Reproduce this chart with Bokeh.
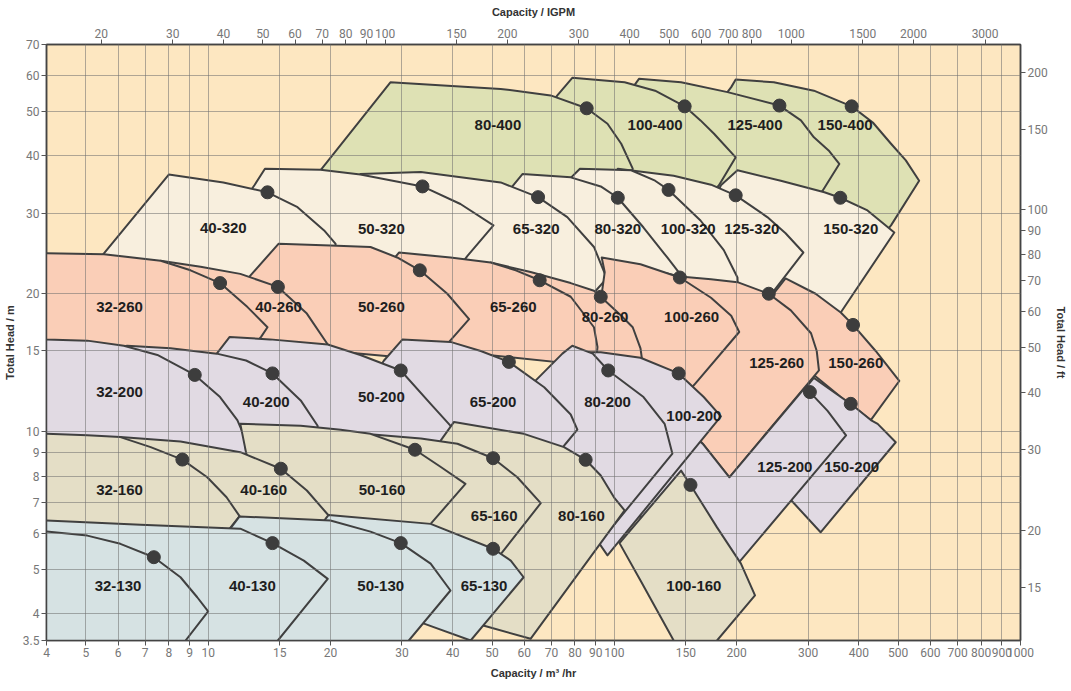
from bokeh.plotting import figure
from bokeh.models import Range1d, LogAxis, LogScale, FixedTicker, CustomJSTickFormatter
from bokeh.embed import file_html
from bokeh.resources import INLINE
from bokeh.core.properties import value

# ---------------- data (capacity m3/hr, total head m) ----------------
Q_TICKS = [4, 5, 6, 7, 8, 9, 10, 15, 20, 30, 40, 50, 60, 70, 80, 90, 100, 150, 200,
           300, 400, 500, 600, 700, 800, 900, 1000]
H_TICKS = [3.5, 4, 5, 6, 7, 8, 9, 10, 15, 20, 30, 40, 50, 60, 70]
IGPM_TICKS = [20, 30, 40, 50, 60, 70, 80, 90, 100, 150, 200, 300, 400, 500, 600, 700, 800,
              1000, 1500, 2000, 3000]
FT_TICKS = [15, 20, 30, 40, 50, 60, 70, 80, 90, 100, 150, 200]
IGPM_PER_M3H = 3.66615
FT_PER_M = 3.28084

# 400 family
Q_150_400 = [199, 247, 310, 384, 433, 480, 522, 563, 480, 404, 229, 168, 194]
H_150_400 = [58.7, 57.9, 55.5, 51.3, 47.3, 42.5, 39.1, 35.3, 28.2, 23.4, 31.2, 47.8, 56.5]
Q_125_400 = [115, 146, 190, 255, 288, 310, 337, 358, 326, 288, 154, 104, 112]
H_125_400 = [58.9, 57.9, 55.1, 51.5, 47.8, 43.9, 41.1, 38.4, 33.6, 29.6, 32.0, 50.2, 57.0]
Q_100_400 = [78.8, 106, 126, 149, 163, 176, 199, 181, 163, 92.6, 62.2, 72.4]
H_100_400 = [59.2, 57.9, 55.5, 51.3, 47.8, 44.7, 39.7, 34.5, 31.2, 34.5, 45.4, 54.2]
Q_80_400 = [17.9, 18.9, 28.1, 52.5, 69.7, 85.5, 96.2, 104, 111, 109, 52.5]
H_80_400 = [35.0, 37.2, 57.9, 56.0, 54.2, 50.8, 47.0, 42.5, 37.5, 33.6, 32.8]

# 320 family
Q_150_320 = [201, 257, 329, 360, 420, 489, 361, 313, 229, 163, 183]
H_150_320 = [37.2, 35.3, 33.3, 32.4, 30.4, 27.2, 18.2, 15.4, 17.5, 27.5, 34.5]
Q_125_320 = [102, 140, 173, 199, 238, 264, 292, 247, 217, 163, 123, 92.6]
H_125_320 = [37.5, 36.2, 34.6, 32.8, 29.4, 27.1, 24.6, 20.3, 17.5, 19.3, 21.9, 28.9]
Q_100_320 = [82.3, 110, 126, 136, 163, 186, 201, 202, 123, 87.5, 69.7, 78.1]
H_100_320 = [37.5, 37.2, 35.3, 33.7, 28.9, 24.9, 21.7, 19.3, 20.3, 26.1, 32.0, 35.8]
Q_80_320 = [59.4, 78.1, 92.6, 102, 118, 135, 144, 146, 98.0, 65.9, 49.6, 56.1]
H_80_320 = [36.5, 35.9, 34.3, 32.4, 27.9, 24.0, 22.3, 20.3, 19.3, 23.6, 29.6, 34.3]
Q_65_320 = [23.7, 33.4, 52.5, 64.9, 76.6, 89.1, 95.8, 90.0, 78.1, 46.9, 29.8, 21.2]
H_65_320 = [36.5, 36.9, 35.0, 32.5, 29.4, 25.3, 21.6, 20.3, 17.5, 19.3, 22.5, 32.0]
Q_50_320 = [13.8, 18.9, 23.7, 28.9, 33.7, 41.8, 50.4, 43.5, 37.4, 21.2, 12.0, 13.0]
H_50_320 = [37.5, 37.3, 36.4, 35.2, 34.3, 31.4, 28.2, 24.2, 20.3, 23.4, 31.2, 34.5]
Q_40_320 = [5.13, 5.54, 8.0, 10.9, 14.0, 16.6, 19.3, 20.6, 20.0, 7.22]
H_40_320 = [22.5, 24.5, 36.4, 35.0, 33.3, 30.9, 27.5, 25.7, 20.8, 20.8]

# 260 family
Q_150_260 = [264, 313, 361, 387, 440, 503, 428, 361, 310, 257, 229]
H_150_260 = [21.6, 20.0, 18.2, 17.1, 15.0, 12.9, 10.6, 11.9, 13.3, 15.0, 18.4]
Q_125_260 = [130, 145, 173, 201, 240, 272, 305, 315, 319, 192, 165, 146, 123]
H_125_260 = [22.3, 21.8, 21.5, 21.2, 20.0, 18.4, 16.4, 15.0, 13.6, 7.95, 9.41, 10.6, 16.6]
Q_100_260 = [93.1, 116, 145, 173, 194, 203, 159, 138, 104, 92.6, 94.7]
H_100_260 = [24.0, 23.2, 21.7, 19.6, 17.9, 16.5, 12.8, 11.1, 12.9, 19.3, 22.3]
Q_80_260 = [49.6, 62.2, 78.1, 89.1, 92.6, 104, 111, 116, 118, 73.8, 46.9]
H_80_260 = [23.4, 22.3, 21.1, 20.3, 19.7, 17.9, 16.9, 15.2, 13.6, 14.3, 19.3]
Q_65_260 = [29.5, 39.5, 49.6, 57.2, 65.5, 78.1, 89.1, 90.9, 90.0, 39.5, 27.4]
H_65_260 = [24.6, 24.0, 23.4, 22.5, 21.4, 19.7, 16.9, 15.3, 13.9, 15.0, 22.7]
Q_50_260 = [14.9, 20.0, 25.1, 29.2, 33.2, 38.8, 43.9, 39.2, 36.3, 20.0, 11.7, 12.7]
H_50_260 = [25.7, 25.5, 25.3, 24.0, 22.5, 20.0, 17.6, 15.7, 14.3, 15.0, 19.8, 21.9]
Q_40_260 = [7.64, 9.58, 12.0, 14.85, 17.5, 19.7, 19.8, 9.58, 5.75]
H_40_260 = [23.6, 22.9, 22.1, 20.7, 18.1, 15.5, 14.3, 14.3, 19.3]
Q_32_260 = [3.65, 4.0, 5.54, 7.64, 9.05, 10.7, 12.5, 14.0, 13.5, 12.0, 3.65]
H_32_260 = [24.5, 24.5, 24.4, 23.6, 22.5, 21.1, 18.7, 16.9, 16.1, 14.3, 14.3]

# 200 family
Q_150_200 = [310, 361, 382, 428, 445, 493, 322, 275, 229, 272]
H_150_200 = [13.1, 11.9, 11.5, 10.6, 10.4, 9.48, 6.03, 7.02, 8.22, 11.4]
Q_125_200 = [146, 165, 192, 293, 303, 335, 372, 203, 163, 116, 116]
H_125_200 = [10.3, 9.41, 7.95, 12.4, 12.2, 11.1, 9.81, 5.19, 4.07, 5.23, 8.22]
Q_100_200 = [85.0, 92.6, 116, 144, 166, 183, 96.2, 91.7, 73.8, 78.1]
H_100_200 = [14.9, 14.9, 14.5, 13.4, 11.9, 10.8, 5.37, 5.71, 7.82, 12.9]
Q_80_200 = [78.8, 88.5, 96.6, 118, 133, 139, 91.7, 73.8, 58.8, 62.2, 74.5]
H_80_200 = [15.4, 14.8, 13.6, 11.9, 10.4, 8.95, 5.71, 5.23, 9.09, 12.6, 14.8]
Q_65_200 = [30.1, 39.5, 46.9, 55.0, 67.2, 78.1, 81.1, 75.9, 65.9, 44.3, 25.1, 27.1]
H_65_200 = [15.9, 15.7, 15.0, 14.2, 12.5, 10.9, 10.1, 9.41, 8.02, 8.22, 12.9, 14.3]
Q_50_200 = [11.3, 14.2, 19.7, 23.7, 29.8, 35.3, 40.3, 42.2, 42.3, 18.9, 9.58, 10.5]
H_50_200 = [16.1, 15.9, 15.5, 14.7, 13.6, 11.5, 10.1, 9.41, 8.65, 9.57, 12.9, 14.8]
Q_40_200 = [5.43, 6.32, 8.08, 10.5, 12.4, 14.4, 16.9, 18.6, 18.7, 9.58, 5.43]
H_40_200 = [15.0, 15.4, 15.2, 14.8, 14.3, 13.4, 11.7, 10.3, 9.33, 8.87, 11.7]
Q_32_200 = [3.65, 4.0, 5.04, 6.2, 7.5, 9.27, 10.7, 11.8, 12.3, 12.4, 12.3, 3.65]
H_32_200 = [16.0, 15.9, 15.8, 15.4, 14.7, 13.3, 11.9, 10.6, 9.73, 9.02, 8.22, 8.22]

# 160 family
Q_100_160 = [103, 146, 154, 179, 205, 222, 179, 163, 146, 140, 116]
H_100_160 = [5.71, 8.22, 7.65, 6.18, 5.15, 4.39, 3.5, 3.13, 3.13, 3.5, 4.73]
Q_80_160 = [40.3, 59.9, 75.2, 85.0, 92.6, 99.8, 106, 62.2, 47.8, 33.4, 37.4]
H_80_160 = [10.5, 9.89, 9.25, 8.68, 8.02, 7.19, 6.73, 3.53, 3.77, 4.28, 9.57]
Q_65_160 = [24.2, 33.4, 41.1, 50.3, 57.7, 65.9, 53.0, 44.3, 26.6, 21.2]
H_65_160 = [9.89, 9.66, 9.41, 8.75, 7.95, 6.98, 5.46, 4.5, 5.23, 9.57]
Q_50_160 = [12.0, 16.9, 21.2, 25.1, 32.3, 37.4, 43.0, 35.3, 29.8, 16.9, 12.7, 12.4]
H_50_160 = [10.4, 10.3, 10.1, 9.89, 9.13, 8.37, 7.69, 6.29, 5.23, 5.79, 8.22, 9.0]
Q_40_160 = [6.08, 8.55, 12.0, 15.1, 17.5, 19.8, 18.9, 12.7, 4.33, 4.33]
H_40_160 = [9.74, 9.52, 9.02, 8.30, 7.44, 6.56, 6.21, 4.07, 4.28, 7.82]
Q_32_160 = [3.65, 4.0, 5.04, 6.08, 7.22, 8.64, 9.95, 11.1, 11.95, 11.3, 8.55, 3.65]
H_32_160 = [9.90, 9.89, 9.82, 9.73, 9.25, 8.69, 7.95, 7.19, 6.54, 6.14, 4.5, 4.5]

# 130 family
Q_65_130 = [19.8, 35.3, 50.3, 55.6, 59.8, 44.3, 34.0, 26.6, 13.2, 18.5]
H_65_130 = [6.58, 6.29, 5.55, 5.23, 4.81, 3.5, 3.81, 4.11, 4.28, 6.09]
Q_50_130 = [6.44, 11.95, 20.0, 25.1, 29.8, 35.3, 39.5, 31.2, 28.9]
H_50_130 = [3.17, 6.53, 6.40, 6.05, 5.71, 5.15, 4.5, 3.5, 3.23]
Q_40_130 = [3.5, 4.0, 6.82, 12.0, 14.4, 17.2, 19.7, 14.85, 13.6, 3.0]
H_40_130 = [6.42, 6.40, 6.26, 6.14, 5.71, 5.23, 4.77, 3.5, 3.17, 3.0]
Q_32_130 = [3.5, 4.0, 5.04, 6.08, 7.35, 8.55, 9.4, 10.0, 8.8, 8.0, 3.0]
H_32_130 = [6.07, 6.05, 5.93, 5.69, 5.32, 4.81, 4.35, 4.05, 3.5, 3.15, 3.0]

# pump model names, rated points and label anchors (same order)
PUMPS = ["150-400", "125-400", "100-400", "80-400",
         "150-320", "125-320", "100-320", "80-320", "65-320", "50-320", "40-320",
         "150-260", "125-260", "100-260", "80-260", "65-260", "50-260", "40-260", "32-260",
         "150-200", "125-200", "100-200", "80-200", "65-200", "50-200", "40-200", "32-200",
         "100-160", "80-160", "65-160", "50-160", "40-160", "32-160",
         "65-130", "50-130", "40-130", "32-130"]
DOT_Q = [384, 255, 149, 85.5,
         360, 199, 136, 102, 64.9, 33.7, 14.0,
         387, 240, 145, 92.6, 65.5, 33.2, 14.85, 10.7,
         382, 303, 144, 96.6, 55.0, 29.8, 14.4, 9.27,
         154, 85.0, 50.3, 32.3, 15.1, 8.64,
         50.3, 29.8, 14.4, 7.35]
DOT_H = [51.3, 51.5, 51.3, 50.8,
         32.4, 32.8, 33.7, 32.4, 32.5, 34.3, 33.3,
         17.1, 20.0, 21.7, 19.7, 21.4, 22.5, 20.7, 21.1,
         11.5, 12.2, 13.4, 13.6, 14.2, 13.6, 13.4, 13.3,
         7.65, 8.68, 8.75, 9.13, 8.30, 8.69,
         5.55, 5.71, 5.71, 5.32]
LABEL_Q = [370, 222, 126, 51.7,
           382, 218, 152, 102, 64.2, 26.7, 10.9,
           393, 251, 155, 94.9, 56.4, 26.7, 14.9, 6.05,
           384, 263, 157, 96.2, 50.3, 26.7, 13.9, 6.05,
           157, 83.0, 50.6, 26.8, 13.7, 6.05,
           47.8, 26.6, 12.85, 6.0]
LABEL_H = [46.8, 46.8, 46.8, 46.6,
           27.7, 27.7, 27.7, 27.7, 27.7, 27.7, 27.8,
           14.1, 14.1, 17.8, 17.8, 18.7, 18.7, 18.7, 18.7,
           8.39, 8.39, 10.8, 11.6, 11.6, 11.9, 11.6, 12.2,
           4.61, 6.54, 6.54, 7.47, 7.47, 7.47,
           4.61, 4.61, 4.61, 4.61]

OUTLINES_Q = [Q_150_400, Q_125_400, Q_100_400, Q_80_400,
              Q_150_320, Q_125_320, Q_100_320, Q_80_320, Q_65_320, Q_50_320, Q_40_320,
              Q_150_260, Q_125_260, Q_100_260, Q_80_260, Q_65_260, Q_50_260, Q_40_260, Q_32_260,
              Q_150_200, Q_125_200, Q_100_200, Q_80_200, Q_65_200, Q_50_200, Q_40_200, Q_32_200,
              Q_100_160, Q_80_160, Q_65_160, Q_50_160, Q_40_160, Q_32_160,
              Q_65_130, Q_50_130, Q_40_130, Q_32_130]
OUTLINES_H = [H_150_400, H_125_400, H_100_400, H_80_400,
              H_150_320, H_125_320, H_100_320, H_80_320, H_65_320, H_50_320, H_40_320,
              H_150_260, H_125_260, H_100_260, H_80_260, H_65_260, H_50_260, H_40_260, H_32_260,
              H_150_200, H_125_200, H_100_200, H_80_200, H_65_200, H_50_200, H_40_200, H_32_200,
              H_100_160, H_80_160, H_65_160, H_50_160, H_40_160, H_32_160,
              H_65_130, H_50_130, H_40_130, H_32_130]

FAMILY_COLORS = {"400": "#DEE1B4", "320": "#F8EFDE", "260": "#FACEB7",
                 "200": "#E1DAE3", "160": "#E4DEC6", "130": "#D6E2E3"}

# ---------------- figure ----------------
p = figure(frame_width=974, frame_height=596, x_axis_type="log", y_axis_type="log",
           x_range=Range1d(4, 1000), y_range=Range1d(3.5, 70),
           output_backend="svg", toolbar_location=None,
           min_border_left=38, min_border_right=20, min_border_top=44, min_border_bottom=20)
p.background_fill_color = "#FDE7C1"
p.border_fill_color = "white"
p.outline_line_color = "#444444"
p.outline_line_width = 1.5

p.extra_x_ranges = {"igpm": Range1d(4 * IGPM_PER_M3H, 1000 * IGPM_PER_M3H)}
p.extra_x_scales = {"igpm": LogScale()}
p.extra_y_ranges = {"ft": Range1d(3.5 * FT_PER_M, 70 * FT_PER_M)}
p.extra_y_scales = {"ft": LogScale()}

fmt = "return String(tick)"

bottom = p.xaxis[0]
bottom.ticker = FixedTicker(ticks=Q_TICKS)
bottom.axis_label = "Capacity / m\u00b3 /hr"
left = p.yaxis[0]
left.ticker = FixedTicker(ticks=H_TICKS)
left.axis_label = "Total Head / m"

top = LogAxis(x_range_name="igpm", ticker=FixedTicker(ticks=IGPM_TICKS),
              axis_label="Capacity / IGPM")
p.add_layout(top, "above")
right = LogAxis(y_range_name="ft", ticker=FixedTicker(ticks=FT_TICKS),
                axis_label="Total Head / ft")
p.add_layout(right, "right")

for ax in [bottom, left, top, right]:
    ax.formatter = CustomJSTickFormatter(code=fmt)
    ax.axis_line_color = "#444444"
    ax.axis_line_width = 1.5
    ax.major_tick_line_color = "#555555"
    ax.major_tick_line_width = 1
    ax.major_tick_out = 5
    ax.major_tick_in = 0
    ax.minor_tick_line_color = None
    ax.major_label_text_font = "Roboto"
    ax.major_label_text_font_size = "12px"
    ax.major_label_text_color = "#777777"
    ax.major_label_standoff = 2
    ax.axis_label_text_font = "Liberation Sans"
    ax.axis_label_text_font_style = "bold"
    ax.axis_label_text_font_size = "11px"
    ax.axis_label_text_color = "#333333"
    ax.axis_label_standoff = 4
bottom.axis_label_standoff = 7
top.axis_label_standoff = 8

p.xgrid.ticker = FixedTicker(ticks=Q_TICKS)
p.ygrid.ticker = FixedTicker(ticks=H_TICKS)
for g in [p.xgrid[0], p.ygrid[0]]:
    g.grid_line_color = "#6f6f6f"
    g.grid_line_alpha = 0.55
    g.grid_line_width = 1
    g.level = "guide"

fills = [FAMILY_COLORS[name.split("-")[1]] for name in PUMPS]
p.patches(xs=OUTLINES_Q, ys=OUTLINES_H, fill_color=fills, fill_alpha=1.0,
          line_color="#404040", line_width=2, line_join="round")

p.scatter(DOT_Q, DOT_H, size=13, color="#3d3d3d", level="annotation")
p.text(LABEL_Q, LABEL_H, text=PUMPS, text_align="center", text_baseline="middle",
       text_font=value("Liberation Sans"), text_font_style="bold",
       text_font_size="15px", text_color="#1e1e1e", level="annotation")

open("out.html", "w").write(file_html(p, INLINE))
